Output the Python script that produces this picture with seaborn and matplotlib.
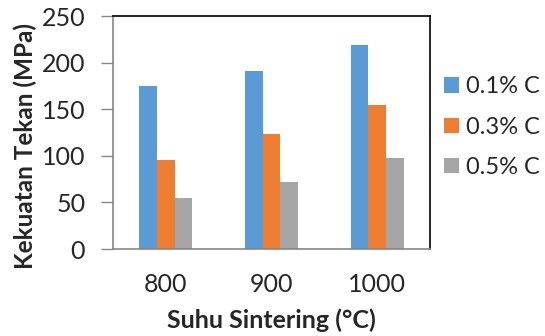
import matplotlib
matplotlib.use("Agg")
import matplotlib.pyplot as plt
import seaborn as sns
import pandas as pd

# Sintering temperatures and compressive strength for each carbon content
temperatures = ["800", "900", "1000"]
series_labels = ["0.1% C", "0.3% C", "0.5% C"]
strength_01 = [175, 191, 219]
strength_03 = [96, 124, 155]
strength_05 = [55, 72, 98]
colors = ["#5B9BD5", "#ED7D31", "#A5A5A5"]

rows = []
for label, values in zip(series_labels, [strength_01, strength_03, strength_05]):
    for t, v in zip(temperatures, values):
        rows.append({"Suhu": t, "Kadar": label, "Kekuatan": v})
df = pd.DataFrame(rows)

sns.set_style("white")
plt.rcParams["font.family"] = ["Lato", "DejaVu Sans"]

fig = plt.figure(figsize=(5.45, 3.36), dpi=100)
ax = fig.add_axes([0.2073, 0.2589, 0.789 - 0.2073, 0.952 - 0.2589])

sns.barplot(data=df, x="Suhu", y="Kekuatan", hue="Kadar", order=temperatures,
            hue_order=series_labels, palette=colors, width=0.5, gap=0,
            saturation=1, ax=ax, legend=True, linewidth=0)

ax.set_ylim(0, 250)
ax.set_yticks([0, 50, 100, 150, 200, 250])
ax.set_xlim(-0.5, 2.5)

ax.set_xlabel("Suhu Sintering (°C)", fontsize=18, fontweight="bold", labelpad=9)
ax.set_ylabel("Kekuatan Tekan (MPa)", fontsize=17.5, fontweight="bold")
ax.yaxis.set_label_coords(-0.24, 0.442)
ax.tick_params(axis="y", which="major", length=9, width=1, color="#868686",
               labelsize=18, direction="out", left=True, pad=11)
ax.tick_params(axis="x", length=0, labelsize=18, pad=17)

for side in ["left", "bottom"]:
    ax.spines[side].set_color("#868686")
    ax.spines[side].set_linewidth(1.2)
for side in ["top", "right"]:
    ax.spines[side].set_color("black")
    ax.spines[side].set_linewidth(1.2)

handles, labels = ax.get_legend_handles_labels()
ax.legend(handles, labels, loc="center left", bbox_to_anchor=(0.798, 0.622),
          bbox_transform=fig.transFigure, frameon=False, fontsize=17,
          handlelength=0.62, handleheight=0.62, handletextpad=0.3,
          labelspacing=0.81, borderaxespad=0)

fig.savefig("out.png", dpi=100)
